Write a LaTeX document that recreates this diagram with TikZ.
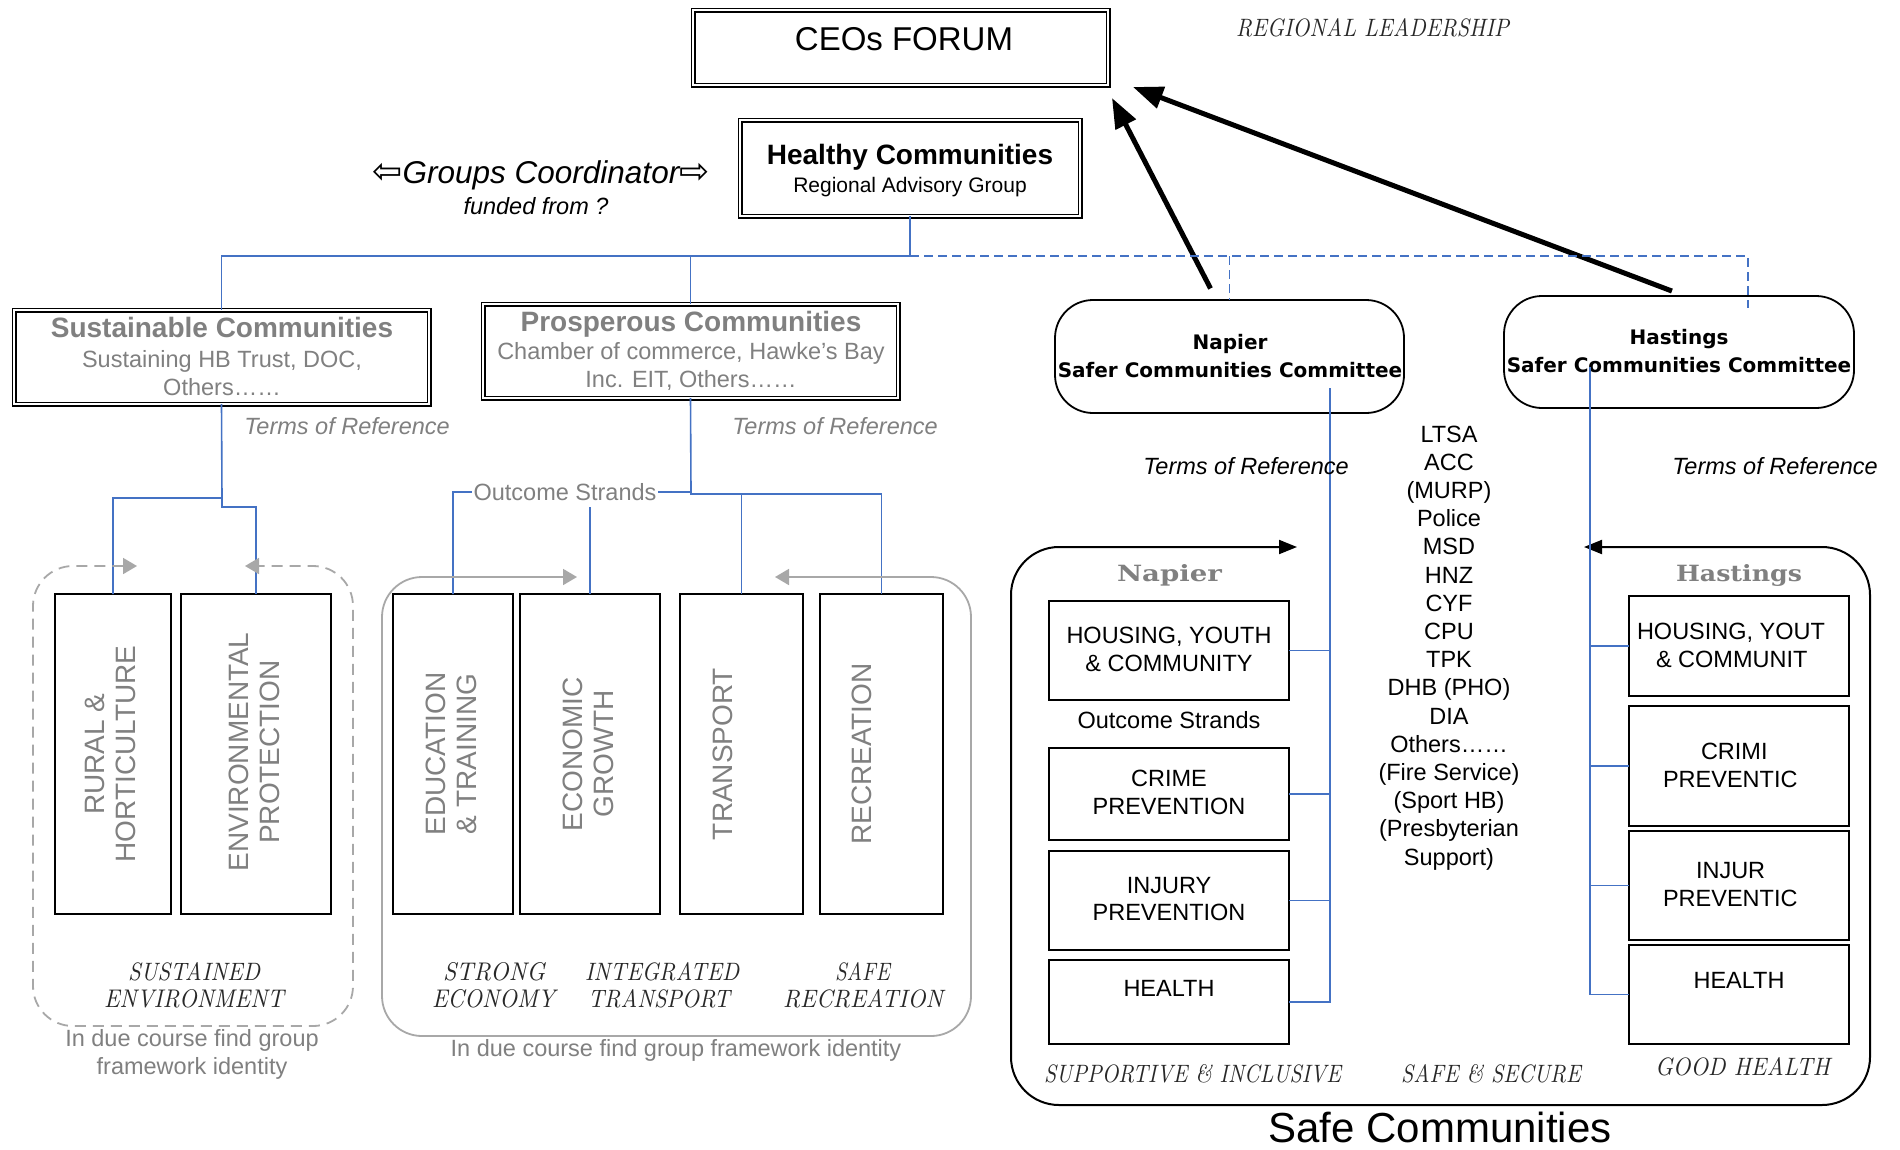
\documentclass[tikz,border=0pt]{standalone}
\usepackage{fontspec}
\newfontfamily\arial{Liberation Sans}
\newfontfamily\verd{DejaVu Sans}
\newfontfamily\dserif{DejaVu Serif}
\usetikzlibrary{arrows.meta,calc}
\definecolor{linkblue}{RGB}{68,114,196}
\definecolor{softgrey}{RGB}{128,128,128}
\definecolor{framegrey}{RGB}{168,168,168}
\definecolor{decoink}{RGB}{40,40,40}
\newcommand\sizept[1]{\fontsize{#1}{#1}\selectfont}
\newcommand\decotext[3]{\resizebox{#1pt}{#2pt}{\itshape #3}}

\begin{document}
\begin{tikzpicture}[x=1pt,y=-1pt,
  every node/.style={inner sep=0pt, outer sep=0pt},
  dbox/.style={draw, double, line width=1.2pt, double distance=2.6pt, fill=white},
  rbox/.style={draw, line width=1.8pt, rounded corners=38pt},
  sbox/.style={draw, line width=1.8pt},
  lbl/.style={anchor=base, font=\arial\sizept{23.5}},
  glbl/.style={lbl, text=softgrey},
  deco/.style={anchor=base west, text=decoink},
  vtext/.style={rotate=90, align=center, text=softgrey, font=\arial\fontsize{28}{31}\selectfont},
  link/.style={draw=linkblue, line width=1.6pt},
  dlink/.style={link, dash pattern=on 9pt off 5pt},
  bigarrow/.style={line width=5pt, -{Triangle[length=30pt,width=22pt]}},
  gtip/.style={{Triangle[length=14pt,width=16pt]}-{Triangle[length=14pt,width=16pt]}},
  btip/.style={{Triangle[length=18pt,width=14pt]}-{Triangle[length=18pt,width=14pt]}}
]
\fill[white] (0,0) rectangle (1900,1149);
\useasboundingbox (0,0) rectangle (1900,1149);

% ---- leadership boxes ----
\node[dbox, minimum width=415pt, minimum height=75pt] (ceo) at (900.5,47.5) {};
\node[anchor=base, font=\arial\sizept{33}] (ceotxt) at (904,50) {CEOs FORUM};
\node[deco] (regl) at (1236,36) {\decotext{273}{18}{REGIONAL LEADERSHIP}};

\node[dbox, minimum width=340pt, minimum height=96pt] (hc) at (910,168) {};
\node[anchor=base, font=\arial\bfseries\sizept{28}] (hctitle) at (910,164) {Healthy Communities};
\node[anchor=base, font=\arial\sizept{21}] (hcsub) at (910,192) {Regional Advisory Group};

\node[anchor=base, font=\arial\itshape\sizept{31.5}] (coord) at (541,183) {{\verd\sizept{36}⇦}Groups Coordinator{\verd\sizept{36}⇨}};
\node[lbl, font=\arial\itshape\sizept{23.5}] (funded) at (536,214) {funded from ?};

% ---- group boxes ----
\node[dbox, minimum width=415pt, minimum height=94pt] (sust) at (221.5,357) {};
\node[glbl, font=\arial\bfseries\sizept{28}] (susttitle) at (222,337) {Sustainable Communities};
\node[glbl] (sustl1) at (222,367) {Sustaining HB Trust, DOC,};
\node[glbl] (sustl2) at (222,395) {Others……};

\node[dbox, minimum width=415pt, minimum height=94pt] (pros) at (690.5,351) {};
\node[glbl, font=\arial\bfseries\sizept{28}] (prostitle) at (691,331) {Prosperous Communities};
\node[glbl] (prosl1) at (691,359) {Chamber of commerce, Hawke’s Bay};
\node[glbl] (prosl2) at (691,387) {Inc. EIT, Others……};

\node[rbox, minimum width=349pt, minimum height=113pt] (napier) at (1229.5,356.5) {};
\node[anchor=base, font=\verd\bfseries\sizept{20}] (napt1) at (1230,349) {Napier};
\node[anchor=base, font=\verd\bfseries\sizept{20}] (napt2) at (1230,377) {Safer Communities Committee};

\node[rbox, minimum width=350pt, minimum height=112pt] (hastings) at (1679,352) {};
\node[anchor=base, font=\verd\bfseries\sizept{20}] (hast1) at (1679,344) {Hastings};
\node[anchor=base, font=\verd\bfseries\sizept{20}] (hast2) at (1679,372) {Safer Communities Committee};

% ---- reporting arrows to the forum ----
\draw[bigarrow, shorten <=13pt] ($(napier.north)+(-13,0)$) -- ($(ceo.south east)+(4,13)$);
\draw[bigarrow, shorten <=14pt] ($(hastings.north)+(6,0)$) -- ($(ceo.south east)+(25,2)$);

% ---- blue structure lines ----
\coordinate (bus) at (910,256);
\coordinate (hdash) at (1748,308);
\draw[link] (hc.south) -- (bus) -| (sust.north);
\draw[link] (bus -| pros.north) -- (pros.north);
\draw[dlink] (bus) -| (hdash);
\draw[dlink] (bus -| napier.north) -- (napier.north);

\node[glbl, font=\arial\itshape\sizept{23.5}] (torsust) at (347,434) {Terms of Reference};
\node[glbl, font=\arial\itshape\sizept{23.5}] (torpros) at (835,434) {Terms of Reference};

% ---- strand boxes ----
\node[sbox, minimum width=116pt, minimum height=320pt] (rural) at (113,754) {};
\node[sbox, minimum width=150pt, minimum height=320pt] (env) at (256,754) {};
\node[sbox, minimum width=120pt, minimum height=320pt] (edu) at (453,754) {};
\node[sbox, minimum width=140pt, minimum height=320pt] (econ) at (590,754) {};
\node[sbox, minimum width=123pt, minimum height=320pt] (trans) at (741.5,754) {};
\node[sbox, minimum width=123pt, minimum height=320pt] (recr) at (881.5,754) {};

\node[vtext] (ruraltxt) at (110,754) {RURAL \&\\HORTICULTURE};
\node[vtext] (envtxt) at (254,752) {ENVIRONMENTAL\\PROTECTION};
\node[vtext] (edutxt) at (451,754) {EDUCATION\\\& TRAINING};
\node[vtext] (econtxt) at (588,754) {ECONOMIC\\GROWTH};
\node[vtext] (transtxt) at (723,754) {TRANSPORT};
\node[vtext] (recrtxt) at (862,754) {RECREATION};

% sustainable branches
\coordinate (sb1) at (222,498);
\coordinate (sb2) at (222,507);
\draw[link] (sust.south) -- (sb1) -| (rural.north);
\draw[link] (sb1) -- (sb2) -| (env.north);

% prosperous branches
\coordinate (pb1) at (691,492);
\coordinate (pb2) at (691,494);
\coordinate (econtop) at (590,507);
\draw[link] (pros.south) -- (pb1) -| (edu.north);
\draw[link] (pb1) -- (pb2) -| (recr.north);
\draw[link] (pb2 -| trans.north) -- (trans.north);
\draw[link] (econtop) -- (econ.north);
\node[glbl, fill=white, inner xsep=2pt, inner ysep=3pt] (strands) at (565,500) {Outcome Strands};

% ---- group frames ----
\draw[framegrey, line width=1.8pt, dash pattern=on 11pt off 7pt, rounded corners=40pt, gtip]
  (137,566) -- (33,566) -- (33,1026) -- (353,1026) -- (353,566) -- (245,566);
\draw[framegrey, line width=1.8pt, rounded corners=40pt, gtip]
  (577,577) -- (382,577) -- (382,1036) -- (971,1036) -- (971,577) -- (775,577);

\node[deco] (d1) at (128,980) {\decotext{132}{18}{SUSTAINED}};
\node[deco] (d2) at (104,1007) {\decotext{180}{18}{ENVIRONMENT}};
\node[deco] (d3) at (443,980) {\decotext{102}{18}{STRONG}};
\node[deco] (d4) at (432,1007) {\decotext{123}{18}{ECONOMY}};
\node[deco] (d5) at (585,980) {\decotext{154}{18}{INTEGRATED}};
\node[deco] (d6) at (588,1007) {\decotext{142}{18}{TRANSPORT}};
\node[deco] (d7) at (835,980) {\decotext{55}{18}{SAFE}};
\node[deco] (d8) at (783,1007) {\decotext{160}{18}{RECREATION}};

\node[glbl] (due1) at (192,1046) {In due course find group};
\node[glbl] (due2) at (192,1074) {framework identity};
\node[glbl] (due3) at (676,1056) {In due course find group framework identity};

% ---- safe communities ----
\draw[line width=2pt, rounded corners=48pt, btip]
  (1297,547) -- (1011,547) -- (1011,1105) -- (1870,1105) -- (1870,547) -- (1584,547);

\node[anchor=base west, text=softgrey] (naphead) at (1117,581.5) {\resizebox{105pt}{17pt}{\dserif\bfseries Napier}};
\node[anchor=base west, text=softgrey] (hashead) at (1676,581.5) {\resizebox{126pt}{17pt}{\dserif\bfseries Hastings}};

\node[sbox, minimum width=240pt, minimum height=99pt] (nh) at (1169,650.5) {};
\node[sbox, minimum width=240pt, minimum height=92pt] (nc) at (1169,794) {};
\node[sbox, minimum width=240pt, minimum height=99pt] (ni) at (1169,900.5) {};
\node[sbox, minimum width=240pt, minimum height=84pt] (nhe) at (1169,1002) {};

\node[lbl] (nht1) at (1169,643.5) {HOUSING, YOUTH};
\node[lbl] (nht2) at (1169,671.5) {\& COMMUNITY};
\node[lbl] (nstr) at (1169,728.5) {Outcome Strands};
\node[lbl] (nct1) at (1169,786.5) {CRIME};
\node[lbl] (nct2) at (1169,814.5) {PREVENTION};
\node[lbl] (nit1) at (1169,893.5) {INJURY};
\node[lbl] (nit2) at (1169,920.5) {PREVENTION};
\node[lbl] (nhet) at (1169,996.5) {HEALTH};

\node[sbox, minimum width=220pt, minimum height=100pt] (hh) at (1739,646) {};
\node[sbox, minimum width=220pt, minimum height=120pt] (hcr) at (1739,766) {};
\node[sbox, minimum width=220pt, minimum height=109pt] (hi) at (1739,885.5) {};
\node[sbox, minimum width=220pt, minimum height=99pt] (hhe) at (1739,994.5) {};

\node[lbl, anchor=base west] (hht1) at (1637,639.5) {HOUSING, YOUT};
\node[lbl, anchor=base west] (hht2) at (1656,667.5) {\& COMMUNIT};
\node[lbl, anchor=base west] (hct1) at (1701,759.5) {CRIMI};
\node[lbl, anchor=base west] (hct2) at (1663,787.5) {PREVENTIC};
\node[lbl, anchor=base west] (hit1) at (1696,878.5) {INJUR};
\node[lbl, anchor=base west] (hit2) at (1663,906.5) {PREVENTIC};
\node[lbl] (hhet) at (1739,988.5) {HEALTH};

% committee to strand links
\coordinate (nv) at (1330,388);
\coordinate (hv) at (1590,367);
\draw[link] (nv) -- (nv |- nhe.east) -- (nhe.east);
\foreach \b in {nh,nc,ni} \draw[link] (\b.east) -- (\b.east -| nv);
\draw[link] (hv) -- (hv |- hhe.west) -- (hhe.west);
\foreach \b in {hh,hcr,hi} \draw[link] (\b.west) -- (\b.west -| hv);

\node[lbl, font=\arial\itshape\sizept{23.5}] (tornap) at (1246,474) {Terms of Reference};
\node[lbl, font=\arial\itshape\sizept{23.5}] (torhas) at (1775,474) {Terms of Reference};

\foreach \t [count=\i] in {{LTSA},{ACC},{(MURP)},{Police},{MSD},{HNZ},{CYF},{CPU},{TPK},{DHB (PHO)},{DIA},{Others……},{(Fire Service)},{(Sport HB)},{(Presbyterian},{Support)}}
  \node[lbl] (ag\i) at (1449,{442+28.2*(\i-1)}) {\t};

\node[deco] (d9) at (1044,1082) {\decotext{297}{18}{SUPPORTIVE \& INCLUSIVE}};
\node[deco] (d10) at (1401,1082) {\decotext{180}{18}{SAFE \& SECURE}};
\node[deco] (d11) at (1655,1075) {\decotext{175}{18}{GOOD HEALTH}};

\node[anchor=base, font=\arial\sizept{42}] (safe) at (1440,1142) {Safe Communities};
\end{tikzpicture}
\end{document}
